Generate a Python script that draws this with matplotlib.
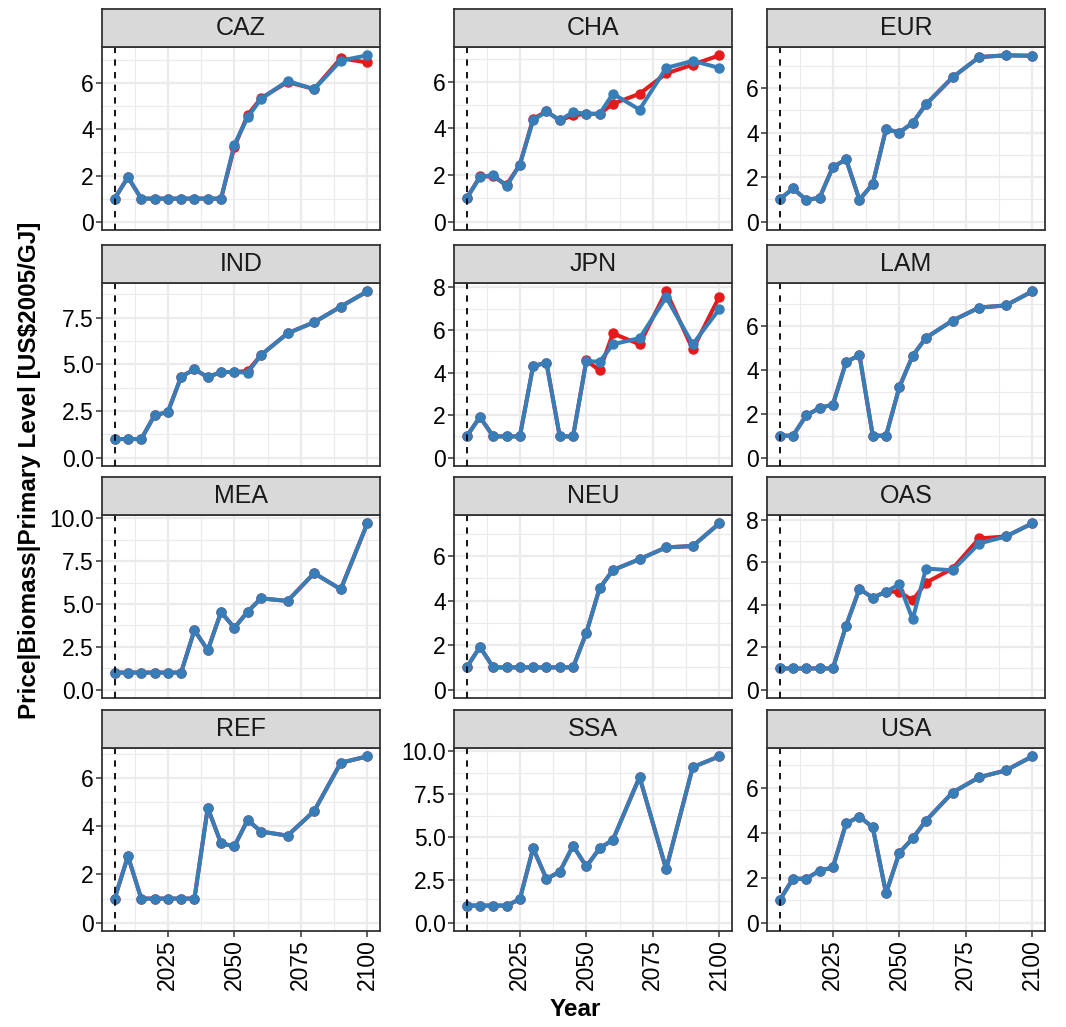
import numpy as np
import matplotlib.pyplot as plt
from matplotlib.ticker import MultipleLocator, FormatStrFormatter

plt.rcParams['font.family'] = ['Liberation Sans', 'DejaVu Sans']

# model years
years = [2005, 2010, 2015, 2020, 2025, 2030, 2035, 2040, 2045, 2050, 2055, 2060, 2070, 2080, 2090, 2100]
regions = ['CAZ', 'CHA', 'EUR', 'IND', 'JPN', 'LAM', 'MEA', 'NEU', 'OAS', 'REF', 'SSA', 'USA']

# red series (drawn underneath)
caz_red = [1.0, 1.93, 1, 1, 1, 1, 1, 1, 1, 3.24, 4.62, 5.35, 6.05, 5.75, 7.08, 6.90]
cha_red = [1.0, 1.94, 1.94, 1.58, 2.45, 4.42, 4.73, 4.35, 4.56, 4.63, 4.63, 5.06, 5.49, 6.36, 6.74, 7.14]
eur_red = [1.0, 1.49, 0.98, 1.07, 2.45, 2.80, 0.98, 1.70, 4.16, 4.00, 4.44, 5.27, 6.48, 7.39, 7.47, 7.45]
ind_red = [1.0, 1.0, 1.0, 2.27, 2.45, 4.34, 4.74, 4.32, 4.59, 4.59, 4.65, 5.50, 6.67, 7.26, 8.10, 8.92]
jpn_red = [1.0, 1.91, 1, 1, 1, 4.31, 4.46, 1, 1, 4.57, 4.10, 5.84, 5.33, 7.82, 5.09, 7.57]
lam_red = [1.0, 1.0, 1.92, 2.26, 2.41, 4.35, 4.66, 1.0, 1.0, 3.21, 4.63, 5.45, 6.23, 6.82, 6.92, 7.56]
mea_red = [1, 1, 1, 1, 1, 1, 3.48, 2.30, 4.53, 3.61, 4.55, 5.33, 5.18, 6.80, 5.86, 9.71]
neu_red = [1.0, 1.92, 1, 1, 1, 1, 1, 1, 1, 2.56, 4.56, 5.37, 5.86, 6.39, 6.45, 7.47]
oas_red = [1, 1, 1, 1, 1, 3.02, 4.74, 4.33, 4.61, 4.61, 4.20, 5.04, 5.70, 7.12, 7.21, 7.83]
ref_red = [1.0, 2.76, 1, 1, 1, 1, 1, 4.76, 3.29, 3.17, 4.26, 3.78, 3.61, 4.63, 6.63, 6.90]
ssa_red = [1, 1, 1, 1, 1.37, 4.34, 2.56, 2.97, 4.49, 3.28, 4.34, 4.84, 8.50, 3.13, 9.08, 9.71]
usa_red = [1.0, 1.95, 1.96, 2.31, 2.46, 4.42, 4.72, 4.24, 1.31, 3.11, 3.75, 4.54, 5.79, 6.47, 6.77, 7.40]

# blue series (drawn on top)
caz_blue = [1.0, 1.93, 1, 1, 1, 1, 1, 1, 1, 3.34, 4.52, 5.32, 6.10, 5.74, 6.98, 7.21]
cha_blue = [1.0, 1.91, 2.01, 1.52, 2.45, 4.35, 4.73, 4.35, 4.70, 4.63, 4.63, 5.49, 4.81, 6.60, 6.90, 6.60]
eur_blue = [1.0, 1.49, 0.98, 1.07, 2.45, 2.80, 0.98, 1.70, 4.16, 4.00, 4.44, 5.27, 6.48, 7.39, 7.47, 7.45]
ind_blue = [1.0, 1.0, 1.0, 2.27, 2.45, 4.34, 4.74, 4.32, 4.59, 4.59, 4.56, 5.50, 6.67, 7.26, 8.10, 8.92]
jpn_blue = [1.0, 1.91, 1, 1, 1, 4.31, 4.46, 1, 1, 4.54, 4.51, 5.33, 5.62, 7.54, 5.33, 6.99]
lam_blue = [1.0, 1.0, 1.92, 2.26, 2.41, 4.35, 4.66, 1.0, 1.0, 3.21, 4.63, 5.45, 6.23, 6.82, 6.92, 7.56]
mea_blue = [1, 1, 1, 1, 1, 1, 3.48, 2.30, 4.53, 3.61, 4.55, 5.33, 5.18, 6.80, 5.86, 9.71]
neu_blue = [1.0, 1.92, 1, 1, 1, 1, 1, 1, 1, 2.56, 4.56, 5.37, 5.86, 6.39, 6.45, 7.47]
oas_blue = [1, 1, 1, 1, 1, 3.02, 4.74, 4.33, 4.61, 4.96, 3.31, 5.70, 5.62, 6.88, 7.21, 7.83]
ref_blue = [1.0, 2.76, 1, 1, 1, 1, 1, 4.76, 3.29, 3.17, 4.26, 3.78, 3.61, 4.63, 6.63, 6.90]
ssa_blue = [1, 1, 1, 1, 1.37, 4.34, 2.56, 2.97, 4.49, 3.28, 4.34, 4.84, 8.50, 3.13, 9.08, 9.71]
usa_blue = [1.0, 1.95, 1.96, 2.31, 2.46, 4.42, 4.72, 4.24, 1.31, 3.11, 3.75, 4.54, 5.79, 6.47, 6.77, 7.40]

red = [caz_red, cha_red, eur_red, ind_red, jpn_red, lam_red,
       mea_red, neu_red, oas_red, ref_red, ssa_red, usa_red]
blue = [caz_blue, cha_blue, eur_blue, ind_blue, jpn_blue, lam_blue,
        mea_blue, neu_blue, oas_blue, ref_blue, ssa_blue, usa_blue]

x_ticks = [2025, 2050, 2075, 2100]
start_year = 2005

W, H = 1066, 1027
fig = plt.figure(figsize=(W / 100, H / 100), dpi=100)

col_left = [102, 454, 767]
row_top = [47, 283, 515, 748]
pw, ph, sh = 278, 183, 38

def rect(l, t, w, h):
    return [l / W, 1 - (t + h) / H, w / W, h / H]

for i, reg in enumerate(regions):
    r, c = divmod(i, 3)
    ax = fig.add_axes(rect(col_left[c], row_top[r], pw, ph))
    ax.set_axisbelow(True)

    ax.plot(years, red[i], color='#E41A1C', lw=2.9, marker='o', ms=6.5, zorder=3)
    ax.plot(years, blue[i], color='#377EB8', lw=2.9, marker='o', ms=6.5, zorder=4)
    ax.axvline(start_year, color='black', lw=1.3, ls=(0, (3.5, 3.5)), zorder=5)

    top = max(max(red[i]), max(blue[i]))
    ax.set_ylim(-0.05 * top, 1.05 * top)
    ax.set_xlim(2005 - 0.05 * 95, 2100 + 0.05 * 95)

    step = 2.5 if top > 8.5 else 2
    ax.yaxis.set_major_locator(MultipleLocator(step))
    ax.yaxis.set_minor_locator(MultipleLocator(step / 2))
    ax.yaxis.set_major_formatter(FormatStrFormatter('%.1f' if step == 2.5 else '%d'))
    ax.set_xticks(x_ticks)
    ax.set_xticks([2012.5, 2037.5, 2062.5, 2087.5], minor=True)

    ax.grid(which='major', color='#EBEBEB', lw=1.6)
    ax.grid(which='minor', color='#EBEBEB', lw=0.8)
    for s in ax.spines.values():
        s.set_color('#333333')
        s.set_linewidth(1.3)

    ax.tick_params(which='minor', length=0)
    ax.tick_params(axis='y', which='major', length=4, width=1.1, color='#333333',
                   labelsize=16.5, labelcolor='black', pad=2)
    if r == 3:
        ax.tick_params(axis='x', which='major', length=4, width=1.1, color='#333333',
                       labelsize=16.5, labelcolor='black', pad=2, labelrotation=90)
        for lab in ax.get_xticklabels():
            lab.set_va('top')
            lab.set_ha('center')
    else:
        ax.tick_params(axis='x', which='major', length=0, labelbottom=False)

    # strip
    sax = fig.add_axes(rect(col_left[c], row_top[r] - sh, pw, sh))
    sax.set_facecolor('#D9D9D9')
    sax.set_xticks([])
    sax.set_yticks([])
    for s in sax.spines.values():
        s.set_color('#333333')
        s.set_linewidth(1.3)
    sax.text(0.5, 0.5, reg, ha='center', va='center', fontsize=18, color='#1A1A1A',
             transform=sax.transAxes)

fig.text(30 / W, 1 - 470 / H, 'Price|Biomass|Primary Level [US\\$2005/GJ]',
         rotation=90, ha='center', va='center', fontsize=17.5, fontweight='bold')
fig.text(575 / W, 1 - 1010 / H, 'Year', ha='center', va='center', fontsize=17.5,
         fontweight='bold')

plt.savefig('out.png', dpi=100)
